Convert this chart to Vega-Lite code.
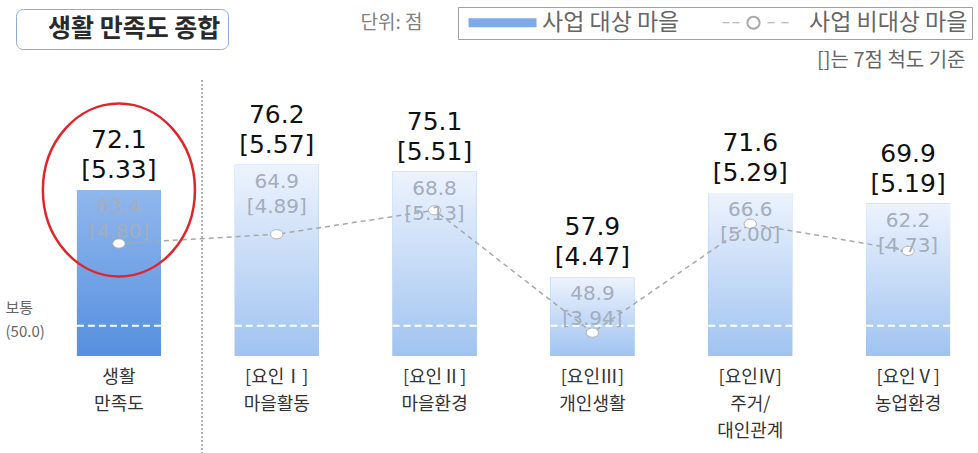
{
  "$schema": "https://vega.github.io/schema/vega-lite/v6.json",
  "width": 978,
  "height": 281,
  "autosize": {"type": "none"},
  "padding": {"left": 0, "right": 0, "top": 75, "bottom": 97},
  "background": "white",
  "config": {"view": {"stroke": null}, "font": "Noto Sans CJK KR"},
  "data": {"values": [
    {"cat": "생활 만족도", "t": 72.1, "t7": "[5.33]", "c": 63.4, "c7": "[4.80]"},
    {"cat": "[요인Ⅰ] 마을활동", "t": 76.2, "t7": "[5.57]", "c": 64.9, "c7": "[4.89]"},
    {"cat": "[요인Ⅱ] 마을환경", "t": 75.1, "t7": "[5.51]", "c": 68.8, "c7": "[5.13]"},
    {"cat": "[요인Ⅲ] 개인생활", "t": 57.9, "t7": "[4.47]", "c": 48.9, "c7": "[3.94]"},
    {"cat": "[요인Ⅳ] 주거/ 대인관계", "t": 71.6, "t7": "[5.29]", "c": 66.6, "c7": "[5.00]"},
    {"cat": "[요인Ⅴ] 농업환경", "t": 69.9, "t7": "[5.19]", "c": 62.2, "c7": "[4.73]"}
  ]},
  "encoding": {
    "x": {"field": "cat", "type": "nominal", "sort": null,
      "scale": {"range": [40, 987], "paddingInner": 0.468, "paddingOuter": 0.234},
      "axis": {"labelAngle": 0, "labelExpr": "split(datum.label, ' ')", "labelFontSize": 18, "labelColor": "#333333", "labelPadding": 12, "labelLineHeight": 27, "labelBaseline": "top", "domain": false, "ticks": false, "labelFont": "Noto Sans CJK KR",
        "title": "[]는 7점 척도 기준", "titleX": 965, "titleY": -296, "titleAlign": "right", "titleBaseline": "middle", "titleFontSize": 20, "titleFontWeight": "normal", "titleColor": "#666666", "titleFont": "Noto Sans CJK KR"}}
  },
  "layer": [
    {
      "mark": {"type": "bar"},
      "encoding": {
        "y": {"field": "t", "type": "quantitative",
          "scale": {"domain": [45.1, 90.8], "nice": false, "zero": false},
          "axis": {"values": [50], "labelExpr": "['보통', '(' + format(datum.value, '.1f') + ')']", "labelAlign": "left", "labelPadding": -5, "labelBaseline": "middle", "labelOffset": -18, "labelFontSize": 15, "labelLineHeight": 24, "labelColor": "#666666", "domain": false, "ticks": false, "grid": false,
            "title": "단위: 점", "titleAngle": 0, "titleX": 360, "titleY": -53, "titleAlign": "left", "titleBaseline": "middle", "titleFontSize": 19, "titleFontWeight": "normal", "titleColor": "#808080"}},
        "y2": {"datum": 45.1},
        "color": {"datum": "사업 대상 마을",
          "scale": {"domain": ["사업 대상 마을", "사업 비대상 마을"], "range": ["#7eaaea", "#a8a8a8"]},
          "legend": {"orient": "none", "legendX": 458, "legendY": -68, "direction": "horizontal", "title": null,
            "strokeColor": "#a0a0a0", "fillColor": "white", "padding": 4, "labelFontSize": 23, "labelColor": "#666666", "labelLimit": 400,
            "symbolSize": 400, "symbolOffset": 29, "columnPadding": 40, "labelOffset": 28,
            "encode": {"symbols": {"update": {
              "shape": {"signal": "datum.value === '사업 대상 마을' ? 'M-3.4,-0.45H3.4V0.45H-3.4Z' : 'M-4.7,0H-4.0M-3.7,0H-3.0M-0.2,0H0.5M1.2,0H1.9M-2.25,0A0.65,0.65 0 1,1 -0.95,0A0.65,0.65 0 1,1 -2.25,0ZM-2.17,0A0.57,0.57 0 1,0 -1.03,0A0.57,0.57 0 1,0 -2.17,0Z'"},
              "fill": {"signal": "datum.value === '사업 대상 마을' ? '#7eaaea' : '#ffffff'"},
              "stroke": {"signal": "datum.value === '사업 대상 마을' ? null : '#8a8a8a'"},
              "strokeWidth": {"signal": "datum.value === '사업 대상 마을' ? 0 : 1.2"},
              "opacity": {"value": 1}
            }}}}}
      }
    },
    {
      "mark": {"type": "bar"},
      "encoding": {
        "y": {"field": "t", "type": "quantitative"},
        "y2": {"datum": 45.1},
        "fill": {
          "condition": {"test": "datum.cat === '생활 만족도'", "value": {"gradient": "linear", "x1": 0, "y1": 0, "x2": 0, "y2": 1, "stops": [{"offset": 0, "color": "#90b7ed"}, {"offset": 1, "color": "#5690df"}]}},
          "value": {"gradient": "linear", "x1": 0, "y1": 0, "x2": 0, "y2": 1, "stops": [{"offset": 0, "color": "#edf3fd"}, {"offset": 1, "color": "#a0c3f1"}]}
        }
      }
    },
    {
      "mark": {"type": "rule", "color": "white", "strokeDash": [7, 4], "strokeWidth": 2},
      "encoding": {
        "x": {"field": "cat", "type": "nominal", "sort": null, "bandPosition": 0},
        "x2": {"field": "cat", "bandPosition": 1},
        "y": {"datum": 50}
      }
    },
    {
      "transform": [{"filter": "datum.cat === '생활 만족도'"}],
      "mark": {"type": "rule", "color": "#9a9a9a", "strokeDash": [2, 2], "strokeWidth": 1.5},
      "encoding": {
        "x": {"datum": "생활 만족도", "type": "nominal", "bandPosition": 1.49},
        "y": {"datum": 90},
        "y2": {"datum": 29.3}
      }
    },
    {
      "mark": {"type": "line", "strokeDash": [5, 4], "strokeWidth": 1.5},
      "encoding": {
        "y": {"field": "c", "type": "quantitative"},
        "color": {"datum": "사업 비대상 마을"}
      }
    },
    {
      "mark": {"type": "point", "filled": true, "fill": "white", "stroke": "#b0b0b0", "strokeWidth": 1, "size": 150, "opacity": 1},
      "encoding": {
        "y": {"field": "c", "type": "quantitative"},
        "shape": {"datum": "생활 만족도 종합",
          "scale": {"range": ["M-1,0A1,0.75 0 1,0 1,0A1,0.75 0 1,0 -1,0"]},
          "legend": {"orient": "none", "legendX": 16, "legendY": -66, "title": null, "symbolSize": 0, "symbolOpacity": 0, "symbolStrokeWidth": 0, "labelOffset": 0,
            "labelFontSize": 25, "labelFontWeight": "bold", "labelColor": "#2a2a2a", "labelLimit": 500, "padding": 7,
            "strokeColor": "#8eaad6", "cornerRadius": 7, "fillColor": "white",
            "encode": {"legend": {"update": {"strokeWidth": {"value": 3}}}}}}
      }
    },
    {
      "mark": {"type": "text", "baseline": "middle", "dy": 17, "fontSize": 20, "font": "DejaVu Sans", "color": "#a3adbd"},
      "encoding": {"y": {"field": "t", "type": "quantitative"}, "text": {"field": "c", "type": "quantitative", "format": ".1f"}}
    },
    {
      "mark": {"type": "text", "baseline": "middle", "dy": 42, "fontSize": 20, "font": "DejaVu Sans", "color": "#a3adbd"},
      "encoding": {"y": {"field": "t", "type": "quantitative"}, "text": {"field": "c7", "type": "nominal"}}
    },
    {
      "mark": {"type": "text", "baseline": "middle", "dy": -50, "fontSize": 25, "font": "DejaVu Sans", "color": "#111111"},
      "encoding": {"y": {"field": "t", "type": "quantitative"}, "text": {"field": "t", "type": "quantitative", "format": ".1f"}}
    },
    {
      "mark": {"type": "text", "baseline": "middle", "dy": -20, "fontSize": 25, "font": "DejaVu Sans", "color": "#111111"},
      "encoding": {"y": {"field": "t", "type": "quantitative"}, "text": {"field": "t7", "type": "nominal"}}
    },
    {
      "transform": [{"filter": "datum.cat === '생활 만족도'"}],
      "mark": {"type": "point", "shape": "M-0.879,0A0.879,1 0 1,0 0.879,0A0.879,1 0 1,0 -0.879,0", "size": 29929, "filled": false, "stroke": "#e0262b", "strokeWidth": 2.5, "opacity": 1},
      "encoding": {"y": {"field": "t", "type": "quantitative"}}
    }
  ]
}
